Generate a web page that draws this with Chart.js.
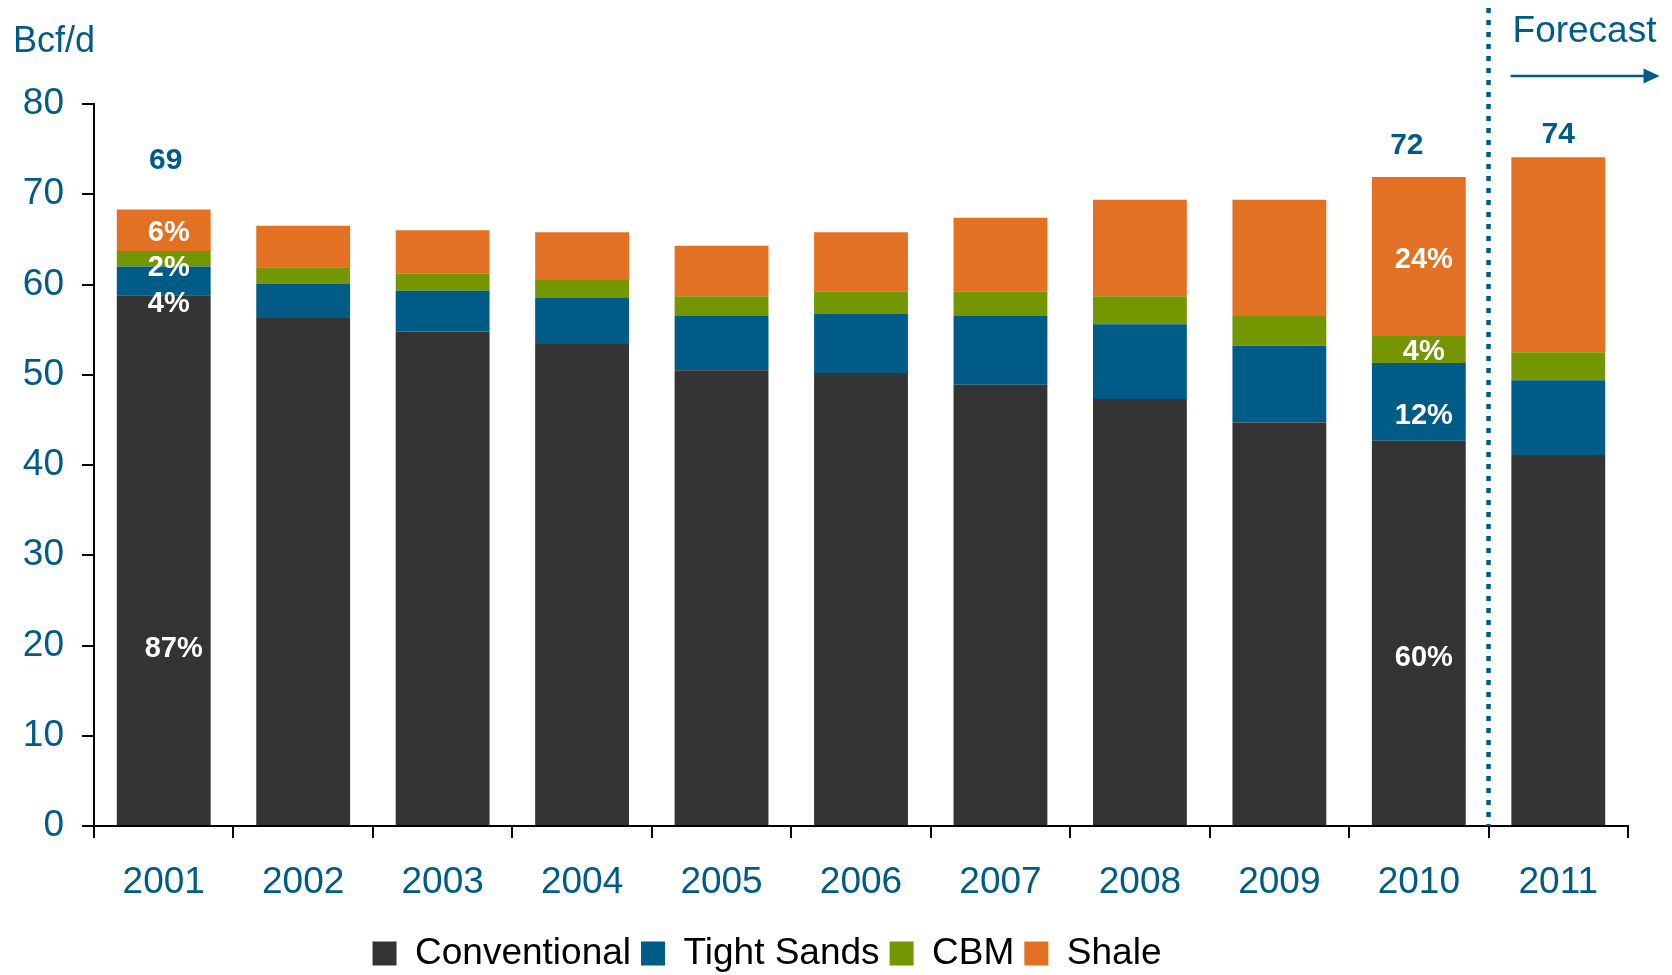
<!DOCTYPE html>
<html>
<head>
<meta charset="UTF-8">
<title>Gas production by source</title>
<script src="https://cdn.jsdelivr.net/npm/chart.js@4.4.0/dist/chart.umd.min.js"></script>
<style>
  * { margin: 0; padding: 0; }
  body { background: #fff; }
  #chart { display: block; }
</style>
</head>
<body>
<canvas id="chart" width="1672" height="975"></canvas>
<script>
// data (Bcf/d)
var years = ['2001', '2002', '2003', '2004', '2005', '2006', '2007', '2008', '2009', '2010', '2011'];
var conventional = [58.8, 56.3, 54.8, 53.4, 50.5, 50.2, 48.9, 47.3, 44.7, 42.7, 41.1];
var tightSands = [3.2, 3.8, 4.5, 5.1, 6.0, 6.6, 7.6, 8.3, 8.5, 8.6, 8.3];
var cbm = [1.7, 1.8, 1.9, 2.0, 2.2, 2.4, 2.7, 3.1, 3.3, 3.0, 3.1];
var shale = [4.6, 4.6, 4.8, 5.3, 5.6, 6.6, 8.2, 10.7, 12.9, 17.6, 21.6];

// text printed on the bars
var convShare = ['87%', null, null, null, null, null, null, null, null, '60%', null];
var tightShare = ['4%', null, null, null, null, null, null, null, null, '12%', null];
var cbmShare = ['2%', null, null, null, null, null, null, null, null, '4%', null];
var shaleShare = ['6%', null, null, null, null, null, null, null, null, '24%', null];
var totals = ['69', null, null, null, null, null, null, null, null, '72', '74'];

var yTicks = [0, 10, 20, 30, 40, 50, 60, 70, 80];
var unitLabel = 'Bcf/d';
var forecastLabel = 'Forecast';

var FONT = '"Liberation Sans", Arial, sans-serif';
var BLUE = '#005b87';

// small hand nudges so the labels sit where the original has them
var shareNudge = { '0-0': 89, '1-0': 23, '2-0': 9, '3-0': 3, '0-9': 25, '1-9': 14, '2-9': 3, '3-9': 3 };
var totalNudge = { 0: -23, 9: -5, 10: 3 };
var totalShiftX = { 0: 2, 9: -12 };

var overlay = {
  id: 'overlay',
  afterLayout: function(chart) {
    // the legend in the original sits a little left of centre and lower
    chart.legend.left -= 47;
    chart.legend.right -= 47;
    chart.legend.top += 7;
    chart.legend.bottom += 7;
  },
  afterDatasetsDraw: function(chart) {
    var ctx = chart.ctx;
    var x = chart.scales.x, y = chart.scales.y;
    ctx.save();

    // unit
    ctx.fillStyle = BLUE;
    ctx.font = '36px ' + FONT;
    ctx.textAlign = 'left';
    ctx.textBaseline = 'alphabetic';
    ctx.fillText(unitLabel, 13, 52);

    // forecast divider
    var divX = (x.getPixelForValue(9) + x.getPixelForValue(10)) / 2;
    ctx.strokeStyle = BLUE;
    ctx.lineWidth = 4.5;
    ctx.setLineDash([5, 7]);
    ctx.beginPath();
    ctx.moveTo(divX, 8);
    ctx.lineTo(divX, y.getPixelForValue(0));
    ctx.stroke();
    ctx.setLineDash([]);

    ctx.font = '37px ' + FONT;
    ctx.fillText(forecastLabel, divX + 24, 42);

    // arrow
    ctx.lineWidth = 2.5;
    ctx.beginPath();
    ctx.moveTo(divX + 22, 76);
    ctx.lineTo(divX + 158, 76);
    ctx.stroke();
    ctx.beginPath();
    ctx.moveTo(divX + 155, 68.5);
    ctx.lineTo(divX + 171, 76);
    ctx.lineTo(divX + 155, 83.5);
    ctx.closePath();
    ctx.fill();

    // shares inside bars
    ctx.font = 'bold 29px ' + FONT;
    ctx.textAlign = 'center';
    ctx.textBaseline = 'middle';
    ctx.fillStyle = '#ffffff';
    chart.data.datasets.forEach(function(ds, di) {
      var meta = chart.getDatasetMeta(di);
      ds.shares.forEach(function(s, i) {
        if (!s) return;
        var bar = meta.data[i];
        var cy = (bar.y + bar.base) / 2 + (shareNudge[di + '-' + i] || 0);
        ctx.fillText(s, bar.x + 5 + (di === 0 && i === 0 ? 5 : 0), cy);
      });
    });

    // totals above bars
    ctx.font = 'bold 30px ' + FONT;
    ctx.fillStyle = BLUE;
    var top = chart.getDatasetMeta(chart.data.datasets.length - 1);
    totals.forEach(function(t, i) {
      if (!t) return;
      var bar = top.data[i];
      ctx.fillText(t, bar.x + (totalShiftX[i] || 0), bar.y - 26 + (totalNudge[i] || 0));
    });
    ctx.restore();
  }
};

function makeSet(label, values, color, shares) {
  return {
    label: label,
    data: values,
    backgroundColor: color,
    borderWidth: 0,
    categoryPercentage: 1,
    barPercentage: 0.673,
    shares: shares
  };
}

var chart = new Chart(document.getElementById('chart').getContext('2d'), {
  type: 'bar',
  data: {
    labels: years,
    datasets: [
      makeSet('Conventional', conventional, '#343434', convShare),
      makeSet('Tight Sands', tightSands, '#005b87', tightShare),
      makeSet('CBM', cbm, '#749600', cbmShare),
      makeSet('Shale', shale, '#e27124', shaleShare)
    ]
  },
  options: {
    responsive: false,
    animation: false,
    layout: { padding: { top: 104, right: 44, left: 0, bottom: 0 } },
    plugins: {
      tooltip: { enabled: false },
      legend: {
        position: 'bottom',
        labels: {
          boxWidth: 24,
          boxHeight: 24,
          padding: 10,
          color: '#000',
          font: { family: FONT, size: 37 }
        }
      }
    },
    scales: {
      x: {
        stacked: true,
        afterFit: function(s) { s.height = 92; },
        grid: { offset: true, drawOnChartArea: false, color: '#000', lineWidth: 2, tickLength: 12 },
        border: { color: '#000', width: 2 },
        ticks: { color: BLUE, padding: 23, font: { family: FONT, size: 37 } }
      },
      y: {
        stacked: true,
        min: 0,
        max: 80,
        afterFit: function(s) { s.width = 94; },
        afterBuildTicks: function(s) { s.ticks = yTicks.map(function(v) { return { value: v }; }); },
        grid: { drawOnChartArea: false, color: '#000', lineWidth: 2, tickLength: 12 },
        border: { color: '#000', width: 2 },
        ticks: { color: BLUE, padding: 18, font: { family: FONT, size: 37 } }
      }
    }
  },
  plugins: [overlay]
});
</script>
</body>
</html>
